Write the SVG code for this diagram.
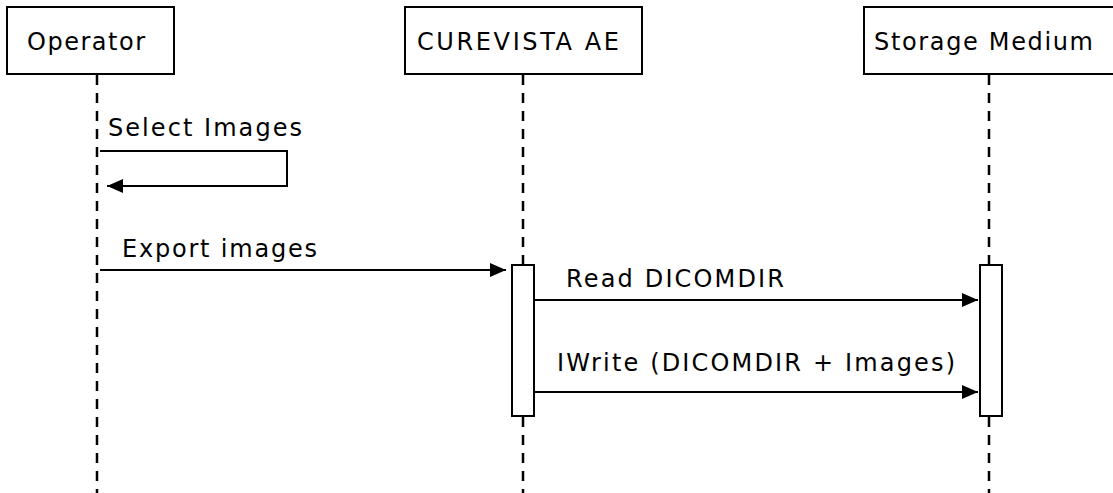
<svg xmlns="http://www.w3.org/2000/svg" width="1113" height="493" viewBox="0 0 1113 493">
<defs>
<marker id="ah" markerWidth="16" markerHeight="14" refX="16" refY="7" orient="auto" markerUnits="userSpaceOnUse">
<path d="M0,0 L16,7 L0,14 Z" fill="#000"/>
</marker>
<style>
.box{fill:#fff;stroke:#000;stroke-width:2}
.life{stroke:#000;stroke-width:2.5;stroke-dasharray:10,8;fill:none}
.msg{stroke:#000;stroke-width:2;fill:none}
text{font-family:"DejaVu Sans",Verdana,sans-serif;font-size:24px;fill:#000}
</style>
</defs>
<g id="lifelines">
<line class="life" x1="97" y1="75" x2="97" y2="493"/>
<line class="life" x1="523" y1="75" x2="523" y2="493"/>
<line class="life" x1="989" y1="75" x2="989" y2="493"/>
</g>
<g id="operator">
<rect class="box" x="7" y="7" width="167" height="67"/>
<text x="27" y="50" textLength="118" lengthAdjust="spacing">Operator</text>
</g>
<g id="curevista">
<rect class="box" x="405" y="7" width="237" height="67"/>
<text x="417" y="50" textLength="202" lengthAdjust="spacing">CUREVISTA AE</text>
</g>
<g id="storage">
<rect class="box" x="864" y="7" width="260" height="67"/>
<text x="874" y="50" textLength="219" lengthAdjust="spacing">Storage Medium</text>
</g>
<g id="activations">
<rect class="box" x="512" y="265" width="22" height="151"/>
<rect class="box" x="980" y="265" width="22" height="151"/>
</g>
<g id="connectors">
<path class="msg" d="M100,151 H287 V186 H107" marker-end="url(#ah)"/>
<line class="msg" x1="100" y1="270" x2="506" y2="270" marker-end="url(#ah)"/>
<line class="msg" x1="534" y1="300" x2="978" y2="300" marker-end="url(#ah)"/>
<line class="msg" x1="534" y1="392" x2="978" y2="392" marker-end="url(#ah)"/>
</g>
<g id="labels">
<text x="108" y="136" textLength="194" lengthAdjust="spacing">Select Images</text>
<text x="122" y="257" textLength="195" lengthAdjust="spacing">Export images</text>
<text x="566" y="287" textLength="218" lengthAdjust="spacing">Read DICOMDIR</text>
<text x="557" y="371" textLength="398" lengthAdjust="spacing">IWrite (DICOMDIR + Images)</text>
</g>
</svg>
